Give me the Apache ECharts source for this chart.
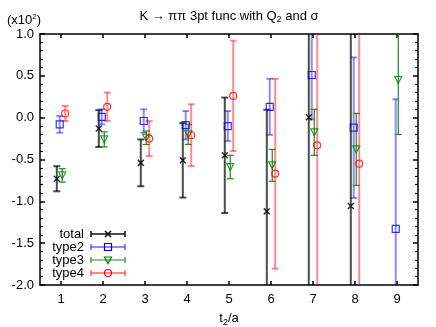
<!DOCTYPE html>
<html><head><meta charset="utf-8">
<script src="https://cdn.jsdelivr.net/npm/echarts@6/dist/echarts.min.js"></script>
<style>html,body{margin:0;padding:0;background:#fff}#c{width:436px;height:327px}</style>
</head><body><div id="c"></div>
<script>
const categories = [1, 2, 3, 4, 5, 6, 7, 8, 9];
const totalVal = [-0.73, -0.13, -0.54, -0.51, -0.45, -1.12, 0.005, -1.055, null];
const totalErr = [0.15, 0.22, 0.28, 0.445, 0.69, 1.215, 2.3, 2.3, null];
const type2Val = [-0.08, 0.01, -0.04, -0.09, -0.10, 0.13, 0.51, -0.12, -1.33];
const type2Err = [0.10, 0.09, 0.14, 0.17, 0.18, 0.335, 0.53, 0.84, 1.55];
const type3Val = [-0.69, -0.26, -0.24, -0.20, -0.59, -0.57, -0.175, -0.38, 0.45];
const type3Err = [0.08, 0.09, 0.08, 0.12, 0.14, 0.19, 0.275, 0.43, 0.65];
const type4Val = [0.05, 0.13, -0.25, -0.21, 0.26, -0.67, -0.33, -0.55, null];
const type4Err = [0.09, 0.17, 0.21, 0.37, 0.66, 1.135, 2.0, 2.0, null];
const seriesNames = ['total', 'type2', 'type3', 'type4'];

const FONT = 'Liberation Sans, Arial, sans-serif';
const YMIN = -2, YMAX = 1;

const styles = {
  total: {off: -0.1, bar: 'rgba(0,0,0,0.7)', barW: 2, mark: '#000', symbol: 'path://M0,0L10,10M10,0L0,10', size: 6, rot: 0, mw: 1.5},
  type2: {off: -0.03, bar: 'rgba(0,0,255,0.45)', barW: 2, mark: '#0000ff', symbol: 'rect', size: 7, rot: 0, mw: 1.2},
  type3: {off: 0.03, bar: '#1f8a1f', barW: 1.2, mark: '#008000', symbol: 'triangle', size: 7, rot: 180, mw: 1.2},
  type4: {off: 0.1, bar: 'rgba(255,0,0,0.45)', barW: 2, mark: '#ff0000', symbol: 'circle', size: 7, rot: 0, mw: 1.2}
};
const valsByName = {
  total: [totalVal, totalErr], type2: [type2Val, type2Err],
  type3: [type3Val, type3Err], type4: [type4Val, type4Err]
};

function mk(vals, errs, off) {
  return categories.map((c, i) => vals[i] == null ? null : [c + off, vals[i], errs[i]]).filter(Boolean);
}

function errRender(color, width) {
  return function (params, api) {
    const x = api.value(0), v = api.value(1), e = api.value(2);
    const top = api.coord([x, v + e]), bot = api.coord([x, v - e]);
    const yTopLim = api.coord([x, YMAX])[1], yBotLim = api.coord([x, YMIN])[1];
    let t = top[1], b = bot[1];
    const capT = t >= yTopLim - 0.5, capB = b <= yBotLim + 0.5;
    t = Math.max(t, yTopLim); b = Math.min(b, yBotLim);
    const px = top[0];
    const st = {stroke: color, lineWidth: width};
    const ch = [{type: 'line', shape: {x1: px, y1: t, x2: px, y2: b}, style: st}];
    if (capT) ch.push({type: 'line', shape: {x1: px - 3.5, y1: t, x2: px + 3.5, y2: t}, style: st});
    if (capB) ch.push({type: 'line', shape: {x1: px - 3.5, y1: b, x2: px + 3.5, y2: b}, style: st});
    return {type: 'group', children: ch};
  };
}

const series = [];
seriesNames.forEach(n => {
  const s = styles[n];
  const d = mk(valsByName[n][0], valsByName[n][1], s.off);
  series.push({
    type: 'custom', name: n, renderItem: errRender(s.bar, s.barW),
    data: d, encode: {x: 0, y: 1}, silent: true, z: 2
  });
  series.push({
    type: 'scatter', name: n, data: d.map(p => [p[0], p[1]]),
    symbol: s.symbol, symbolSize: s.size, symbolRotate: s.rot,
    itemStyle: {color: 'rgba(0,0,0,0)', borderColor: s.mark, borderWidth: s.mw},
    silent: true, z: 3
  });
});

// legend drawn as graphic
const legendGraphics = [];
const legX = 84, legY0 = 234, legDY = 13, lx1 = 91, lx2 = 125, lm = 108;
seriesNames.forEach((n, i) => {
  const s = styles[n];
  const y = legY0 + i * legDY;
  legendGraphics.push({type: 'text', x: legX, y: y,
    style: {text: n, font: '13px ' + FONT, fill: '#000', textAlign: 'right', textVerticalAlign: 'middle'}});
  const st = {stroke: s.bar, lineWidth: s.barW};
  legendGraphics.push({type: 'line', shape: {x1: lx1, y1: y, x2: lx2, y2: y}, style: st});
  legendGraphics.push({type: 'line', shape: {x1: lx1, y1: y - 3, x2: lx1, y2: y + 3}, style: st});
  legendGraphics.push({type: 'line', shape: {x1: lx2, y1: y - 3, x2: lx2, y2: y + 3}, style: st});
  const ms = {stroke: s.mark, fill: 'none', lineWidth: s.mw};
  if (n === 'total') {
    legendGraphics.push({type: 'line', shape: {x1: lm - 3, y1: y - 3, x2: lm + 3, y2: y + 3}, style: ms});
    legendGraphics.push({type: 'line', shape: {x1: lm - 3, y1: y + 3, x2: lm + 3, y2: y - 3}, style: ms});
  } else if (n === 'type2') {
    legendGraphics.push({type: 'rect', shape: {x: lm - 3.5, y: y - 3.5, width: 7, height: 7}, style: ms});
  } else if (n === 'type3') {
    legendGraphics.push({type: 'polygon', shape: {points: [[lm - 3.5, y - 3], [lm + 3.5, y - 3], [lm, y + 3.5]]}, style: ms});
  } else {
    legendGraphics.push({type: 'circle', shape: {cx: lm, cy: y, r: 3.5}, style: ms});
  }
});

const axisLineStyle = {color: '#000', width: 1.5};
const chart = echarts.init(document.getElementById('c'), null, {renderer: 'canvas'});
chart.setOption({
  animation: false,
  backgroundColor: '#fff',
  grid: {left: 40, right: 18, top: 34, bottom: 42, containLabel: false, outerBoundsMode: 'none'},
  xAxis: [{
    type: 'value', min: 0.5, max: 9.5, position: 'bottom',
    axisLine: {show: true, onZero: false, lineStyle: axisLineStyle},
    axisTick: {show: true, inside: true, length: 4, customValues: categories, lineStyle: axisLineStyle},
    axisLabel: {customValues: categories, color: '#000', fontSize: 13, fontFamily: FONT, margin: 8},
    splitLine: {show: false},
    name: '{a|t}{s|2}{a|/a}', nameLocation: 'middle', nameGap: 25,
    nameTextStyle: {rich: {a: {fontSize: 13, fontFamily: FONT, color: '#000'}, s: {fontSize: 9, fontFamily: FONT, color: '#000', verticalAlign: 'bottom', padding: [8, 0, 0, 0]}}}
  }, {
    type: 'value', min: 0.5, max: 9.5, position: 'top',
    axisLine: {show: true, onZero: false, lineStyle: axisLineStyle},
    axisTick: {show: true, inside: true, length: 4, customValues: categories, lineStyle: axisLineStyle},
    axisLabel: {show: false}, splitLine: {show: false}
  }],
  yAxis: [{
    type: 'value', min: YMIN, max: YMAX, interval: 0.5, position: 'left',
    axisLine: {show: true, onZero: false, lineStyle: axisLineStyle},
    axisTick: {show: true, inside: true, length: 5, lineStyle: axisLineStyle},
    minorTick: {show: true, splitNumber: 5, length: 3, lineStyle: {color: '#000', width: 1.2}},
    axisLabel: {color: '#000', fontSize: 13, fontFamily: FONT, margin: 6, formatter: v => v.toFixed(1)},
    splitLine: {show: false}
  }, {
    type: 'value', min: YMIN, max: YMAX, interval: 0.5, position: 'right',
    axisLine: {show: true, onZero: false, lineStyle: axisLineStyle},
    axisTick: {show: true, inside: true, length: 5, lineStyle: axisLineStyle},
    minorTick: {show: true, splitNumber: 5, length: 3, lineStyle: {color: '#000', width: 1.2}},
    axisLabel: {show: false}, splitLine: {show: false}
  }],
  graphic: [
    {type: 'text', x: 229, y: 16, style: {text: 'K → ππ 3pt func with Q{s|2} and σ', font: '13px ' + FONT, fill: '#000', textAlign: 'center', textVerticalAlign: 'middle',
      rich: {s: {fontSize: 9, fontFamily: FONT, fill: '#000', padding: [7, 0, 0, 0]}}}},
    {type: 'text', x: 7, y: 20, style: {text: '(x10{s|2})', font: '13px ' + FONT, fill: '#000', textAlign: 'left', textVerticalAlign: 'middle',
      rich: {s: {fontSize: 8, fontFamily: FONT, fill: '#000', padding: [0, 0, 6, 0]}}}}
  ].concat(legendGraphics),
  series: series
});
</script>
</body></html>
